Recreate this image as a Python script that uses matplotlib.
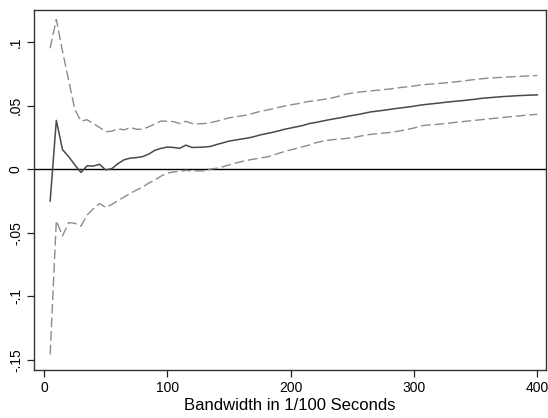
import matplotlib
matplotlib.use("Agg")
import matplotlib.pyplot as plt
import numpy as np

plt.rcParams['font.family'] = ['Liberation Sans', 'DejaVu Sans']

bandwidth = list(range(5, 401, 5))

estimate = [
    -0.025, 0.0385, 0.0155, 0.010, 0.0035, -0.0025, 0.0028, 0.0025, 0.0040, -0.0005,
    0.0005, 0.0045, 0.0075, 0.0088, 0.0092, 0.0100, 0.0120, 0.0150, 0.0165, 0.0175,
    0.0172, 0.0165, 0.0190, 0.0172, 0.0173, 0.0175, 0.0180, 0.0195, 0.0208, 0.0222,
    0.0230, 0.0238, 0.0246, 0.0256, 0.0270, 0.0280, 0.0290, 0.0302, 0.0315, 0.0325,
    0.0335, 0.0345, 0.0360, 0.0368, 0.0378, 0.0388, 0.0397, 0.0405, 0.0415, 0.0424,
    0.0432, 0.0442, 0.0452, 0.0458, 0.0464, 0.0471, 0.0478, 0.0484, 0.0490, 0.0497,
    0.0505, 0.0511, 0.0516, 0.0521, 0.0527, 0.0532, 0.0537, 0.0541, 0.0547, 0.0552,
    0.0559, 0.0563, 0.0567, 0.0571, 0.0574, 0.0577, 0.0580, 0.0582, 0.0584, 0.0586,
]

upper = [
    0.0953, 0.118, 0.093, 0.070, 0.047, 0.038, 0.039, 0.036, 0.033, 0.0296,
    0.030, 0.032, 0.031, 0.033, 0.0315, 0.0315, 0.0335, 0.0357, 0.038, 0.0378,
    0.0375, 0.036, 0.0378, 0.036, 0.0358, 0.036, 0.0368, 0.0378, 0.0392, 0.0405,
    0.0413, 0.0420, 0.0428, 0.0442, 0.0455, 0.0465, 0.0475, 0.0487, 0.0498, 0.0508,
    0.0515, 0.0525, 0.0535, 0.0540, 0.0548, 0.0555, 0.0565, 0.0578, 0.0592, 0.0600,
    0.0607, 0.0612, 0.0617, 0.0622, 0.0627, 0.0632, 0.0638, 0.0645, 0.0650, 0.0656,
    0.0663, 0.0668, 0.0672, 0.0676, 0.0680, 0.0685, 0.0690, 0.0695, 0.0702, 0.0708,
    0.0713, 0.0717, 0.0720, 0.0723, 0.0726, 0.0729, 0.0731, 0.0734, 0.0736, 0.0738,
]

lower = [
    -0.1457, -0.0405, -0.0525, -0.042, -0.0425, -0.0447, -0.036, -0.031, -0.027, -0.030,
    -0.0277, -0.0246, -0.0218, -0.019, -0.0163, -0.014, -0.0108, -0.0084, -0.0053, -0.003,
    -0.0021, -0.0017, -0.0008, -0.0013, -0.0013, -0.0012, 0.0002, 0.0008, 0.0020, 0.0034,
    0.0048, 0.0060, 0.0071, 0.0080, 0.0088, 0.0096, 0.0108, 0.0125, 0.0140, 0.0153,
    0.0165, 0.0178, 0.0191, 0.0208, 0.0220, 0.0228, 0.0234, 0.0238, 0.0243, 0.0248,
    0.0258, 0.0268, 0.0275, 0.0280, 0.0285, 0.0289, 0.0296, 0.0305, 0.0315, 0.0325,
    0.0340, 0.0348, 0.0350, 0.0355, 0.0360, 0.0365, 0.0371, 0.0376, 0.0381, 0.0386,
    0.0391, 0.0396, 0.0401, 0.0406, 0.0411, 0.0416, 0.0420, 0.0425, 0.0429, 0.0433,
]

x_ticks = [0, 100, 200, 300, 400]
y_ticks = [-0.15, -0.1, -0.05, 0, 0.05, 0.1]
y_tick_labels = ["-.15", "-.1", "-.05", "0", ".05", ".1"]
x_label = "Bandwidth in 1/100 Seconds"

fig = plt.figure(figsize=(5.48, 4.18), dpi=100)
ax = fig.add_axes([34/548, 1-370/418, (546-34)/548, (370-10)/418])

ax.axhline(0, color='black', lw=1.0, zorder=1)
ax.plot(bandwidth, upper, color='#8c8c8c', lw=1.0, linestyle=(0, (7, 2.8)), zorder=2)
ax.plot(bandwidth, lower, color='#8c8c8c', lw=1.0, linestyle=(0, (7, 2.8)), zorder=2)
ax.plot(bandwidth, estimate, color='#4a4a4a', lw=1.1, zorder=3)

ax.set_xlim(-8.1, 407)
ax.set_ylim(-0.158, 0.1254)
ax.set_xticks(x_ticks)
ax.set_xticklabels([str(t) for t in x_ticks])
ax.set_yticks(y_ticks)
ax.set_yticklabels(y_tick_labels, rotation=90, va='center')
ax.tick_params(axis='both', direction='out', length=5, width=0.9, labelsize=10, color='#222222', pad=3)
ax.set_xlabel(x_label, fontsize=12, labelpad=2)

for s in ax.spines.values():
    s.set_color('#333333')
    s.set_linewidth(1.0)

fig.savefig("out.png", dpi=100)
